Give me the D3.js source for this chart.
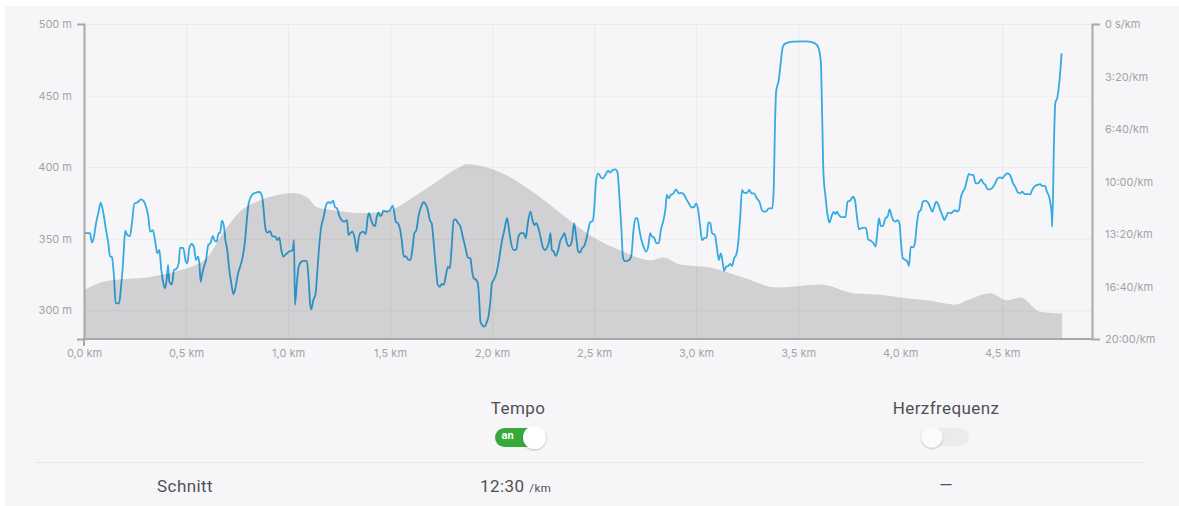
<!DOCTYPE html>
<html>
<head>
<meta charset="utf-8">
<script src="https://cdn.jsdelivr.net/npm/d3@7"></script>
<style>
    body { margin: 0; background: #fff; }
    svg { display: block; }
    .tick text { font-family: Inter, "Open Sans", sans-serif; font-size: 11px; fill: #a3a3a6; }
    .axis path, .axis line { stroke: #a8a8aa; stroke-width: 2px; }
    .grid line { stroke: #ebebee; stroke-width: 1px; }
    .grid path { display: none; }
    .label { font-family: Roboto, sans-serif; fill: #505053; letter-spacing: 0.4px; }
</style>
</head>
<body>
<svg id="chart" width="1179" height="506"></svg>
<script>
// elevation profile (km, m)
const elevKm = [0, 0.093, 0.225, 0.309, 0.387, 0.471, 0.603, 0.681, 0.765, 0.848, 0.961, 1.025, 1.093, 1.142, 1.221, 1.368, 1.5, 1.613, 1.73, 1.828, 1.877, 1.99, 2.088, 2.186, 2.299, 2.397, 2.495, 2.627, 2.775, 2.838, 2.922, 3.069, 3.23, 3.397, 3.608, 3.77, 3.887, 4.0, 4.132, 4.27, 4.328, 4.441, 4.525, 4.588, 4.686, 4.76, 4.794];
const elevM = [314, 320, 322, 323, 325, 328, 337, 354, 369, 376, 381, 382, 379, 372, 370, 368, 370, 379, 390, 399, 402, 399, 393, 384, 372, 361, 351, 342, 335, 337, 332, 330, 323, 316, 318, 312, 311, 309, 307, 304, 307, 312, 307, 309, 299, 298, 298];

// pace track [km, seconds per km]
const paceTrack = [[0,797],[0.010,797],[0.029,797],[0.039,833],[0.049,810],[0.059,759],[0.070,721],[0.082,681],[0.095,721],[0.108,785],[0.119,835],[0.127,884],[0.137,889],[0.147,963],[0.155,1064],[0.172,1064],[0.180,1013],[0.190,925],[0.196,848],[0.202,787],[0.212,804],[0.225,808],[0.235,759],[0.247,683],[0.258,681],[0.266,677],[0.278,668],[0.291,673],[0.304,696],[0.315,734],[0.324,791],[0.337,785],[0.348,823],[0.359,874],[0.369,861],[0.379,937],[0.389,988],[0.397,1007],[0.405,975],[0.412,918],[0.418,982],[0.431,992],[0.441,937],[0.454,932],[0.464,912],[0.471,852],[0.487,854],[0.497,899],[0.506,912],[0.516,854],[0.528,838],[0.539,851],[0.549,899],[0.559,886],[0.565,909],[0.572,982],[0.578,956],[0.588,925],[0.598,899],[0.609,842],[0.621,833],[0.631,808],[0.641,826],[0.650,829],[0.660,797],[0.667,797],[0.676,749],[0.686,772],[0.693,823],[0.702,861],[0.712,937],[0.722,988],[0.732,1029],[0.742,1007],[0.755,950],[0.765,925],[0.778,886],[0.788,835],[0.798,747],[0.807,683],[0.824,651],[0.840,643],[0.859,640],[0.873,658],[0.879,696],[0.889,778],[0.899,795],[0.912,789],[0.922,808],[0.938,810],[0.948,823],[0.957,814],[0.967,861],[0.977,886],[0.994,874],[1.006,867],[1.023,861],[1.029,823],[1.034,1070],[1.043,988],[1.052,925],[1.065,906],[1.078,902],[1.092,902],[1.100,963],[1.108,1064],[1.114,1087],[1.124,1051],[1.134,1032],[1.144,937],[1.153,842],[1.163,772],[1.173,740],[1.190,683],[1.200,679],
    [1.207,683],[1.221,673],[1.230,698],[1.240,702],[1.250,728],[1.263,747],[1.276,753],[1.289,747],[1.296,804],[1.305,797],[1.315,791],[1.325,810],[1.338,867],[1.345,823],[1.354,797],[1.369,791],[1.381,800],[1.391,734],[1.397,721],[1.407,747],[1.418,766],[1.426,770],[1.435,734],[1.443,719],[1.451,731],[1.459,728],[1.467,711],[1.484,715],[1.500,709],[1.513,692],[1.521,721],[1.528,753],[1.538,759],[1.548,778],[1.557,823],[1.567,886],[1.577,884],[1.587,896],[1.600,899],[1.609,861],[1.619,797],[1.629,785],[1.639,734],[1.652,696],[1.665,679],[1.675,687],[1.685,709],[1.695,747],[1.704,759],[1.714,835],[1.724,925],[1.734,994],[1.744,1001],[1.753,990],[1.763,994],[1.773,960],[1.783,925],[1.793,931],[1.802,848],[1.812,747],[1.822,744],[1.832,757],[1.845,772],[1.858,816],[1.868,848],[1.881,889],[1.894,893],[1.901,937],[1.910,969],[1.920,973],[1.930,988],[1.936,1039],[1.943,1134],[1.952,1147],[1.962,1153],[1.972,1140],[1.982,1115],[1.992,1051],[1.999,988],[2.008,975],[2.021,950],[2.031,912],[2.041,861],[2.050,820],[2.060,785],[2.074,740],[2.083,785],[2.093,835],[2.106,861],[2.119,858],[2.129,810],[2.142,797],[2.155,797],[2.165,816],[2.175,759],[2.188,715],[2.198,747],[2.207,766],[2.217,759],[2.227,778],[2.237,810],[2.250,854],[2.260,861],[2.270,851],[2.279,829],[2.286,797],[2.293,861],[2.302,867],[2.312,884],[2.322,867],[2.335,823],[2.345,810],[2.354,797],[2.364,826],[2.374,846],[2.384,842],
    [2.392,823],[2.402,759],[2.412,810],[2.422,867],[2.431,871],[2.441,854],[2.451,846],[2.461,823],[2.471,785],[2.480,757],[2.494,749],[2.500,709],[2.510,594],[2.520,569],[2.533,584],[2.543,588],[2.555,575],[2.569,559],[2.578,566],[2.592,556],[2.604,554],[2.614,563],[2.624,658],[2.634,785],[2.641,886],[2.650,903],[2.663,902],[2.676,896],[2.683,880],[2.693,785],[2.703,740],[2.712,740],[2.722,785],[2.732,823],[2.742,848],[2.755,867],[2.765,848],[2.775,797],[2.784,810],[2.794,813],[2.804,835],[2.817,835],[2.827,785],[2.840,747],[2.850,702],[2.856,651],[2.866,664],[2.876,651],[2.889,645],[2.902,630],[2.915,645],[2.928,643],[2.941,651],[2.954,670],[2.964,683],[2.977,698],[2.990,698],[3.000,683],[3.010,709],[3.020,772],[3.029,823],[3.039,816],[3.052,813],[3.059,757],[3.069,757],[3.078,797],[3.092,804],[3.101,848],[3.111,899],[3.121,874],[3.131,914],[3.137,940],[3.147,925],[3.157,922],[3.167,914],[3.176,922],[3.186,893],[3.196,880],[3.206,835],[3.216,734],[3.225,632],[3.235,643],[3.249,643],[3.261,632],[3.271,645],[3.284,645],[3.297,664],[3.310,677],[3.324,711],[3.337,715],[3.346,712],[3.356,702],[3.373,702],[3.380,632],[3.387,366],[3.392,258],[3.405,213],[3.415,144],[3.425,86],[3.438,74],[3.477,67],[3.543,66],[3.583,74],[3.600,93],[3.611,144],[3.618,366],[3.624,569],[3.634,658],[3.644,728],[3.653,757],[3.663,734],[3.673,716],[3.683,724],[3.690,715],[3.700,728],[3.712,736],[3.732,736],[3.742,677],[3.755,673],[3.768,658],[3.778,670],[3.788,734],[3.798,782],[3.810,778],[3.824,776],[3.833,778],[3.843,820],[3.856,826],[3.869,835],[3.879,848],[3.886,810],[3.896,740],[3.905,770],[3.915,770],[3.928,740],[3.938,734],[3.948,706],[3.957,728],[3.967,749],[3.977,753],[3.987,747],[3.997,762],[4.003,823],[4.013,893],[4.026,899],[4.036,906],[4.043,922],[4.052,848],[4.062,851],[4.072,835],[4.082,759],[4.092,715],[4.101,709],[4.111,677],[4.124,673],[4.137,681],[4.147,698],[4.157,715],[4.167,696],[4.176,677],[4.186,686],[4.196,709],[4.206,728],[4.216,747],[4.225,734],[4.235,719],[4.248,721],[4.258,715],[4.268,709],[4.278,715],[4.288,709],[4.298,658],[4.307,639],[4.317,626],[4.327,594],[4.337,571],[4.346,575],[4.359,575],[4.369,607],[4.379,607],[4.389,601],[4.398,592],[4.408,607],[4.418,613],[4.428,630],[4.441,630],[4.454,622],[4.467,605],[4.477,588],[4.490,584],[4.500,588],[4.510,579],[4.523,569],[4.533,571],[4.543,584],[4.552,605],[4.565,622],[4.578,643],[4.588,645],[4.598,639],[4.611,648],[4.624,648],[4.637,649],[4.647,632],[4.657,620],[4.673,613],[4.686,610],[4.696,617],[4.709,617],[4.719,639],[4.732,664],[4.742,721],[4.745,773],[4.754,442],[4.760,302],[4.771,277],[4.781,213],[4.791,112]];

const xTicks = [0, 0.5, 1, 1.5, 2, 2.5, 3, 3.5, 4, 4.5];
const altTicks = [300, 350, 400, 450, 500];
const paceTicks = [0, 200, 400, 600, 800, 1000, 1200];

const margin = { top: 24, right: 87, bottom: 167, left: 84 };
const W = 1179, H = 506;
const width = W - margin.left - margin.right;
const height = H - margin.top - margin.bottom;

const svg = d3.select("#chart");

// panel background
svg.append("rect").attr("x", 5).attr("y", 6).attr("width", W - 5).attr("height", H - 6).attr("fill", "#f6f6f8");

const g = svg.append("g").attr("transform", `translate(${margin.left},${margin.top})`);

const x = d3.scaleLinear().domain([0, 4.94]).range([0, width]);
const yAlt = d3.scaleLinear().domain([280, 500]).range([height, 0]);
const yPace = d3.scaleLinear().domain([0, 1200]).range([0, height]);

const fmtKm = (d) => d3.format(".1f")(d).replace(".", ",") + " km";
const fmtPace = (d) => (d === 0 ? "0 s/km" : `${Math.floor(d / 60)}:${String(d % 60).padStart(2, "0")}/km`);

// grids
g.append("g").attr("class", "grid x").attr("transform", `translate(0,${height})`)
    .call(d3.axisBottom(x).tickValues(xTicks).tickFormat("").tickSize(-height));
g.append("g").attr("class", "grid y")
    .call(d3.axisLeft(yAlt).tickValues(altTicks).tickFormat("").tickSize(-width));

// pace line
const line = d3.line()
    .x((d) => x(d[0]))
    .y((d) => yPace(d[1]))
    .curve(d3.curveMonotoneX);
g.append("path").datum(paceTrack)
    .attr("fill", "none").attr("stroke", "#36aae2").attr("stroke-width", 1.8)
    .attr("stroke-linejoin", "round").attr("d", line);

// elevation area, drawn on top with transparency
const area = d3.area()
    .x((d, i) => x(elevKm[i]))
    .y0(height)
    .y1((d) => yAlt(d))
    .curve(d3.curveMonotoneX);
g.append("path").datum(elevM).attr("fill", "rgba(0,0,0,0.148)").attr("d", area);

// axes
g.append("g").attr("class", "axis x").attr("transform", `translate(0,${height})`)
    .call(d3.axisBottom(x).tickValues(xTicks).tickFormat(fmtKm).tickSizeInner(0).tickSizeOuter(7).tickPadding(10));
g.append("g").attr("class", "axis y")
    .call(d3.axisLeft(yAlt).tickValues(altTicks).tickFormat((d) => d + " m").tickSizeInner(0).tickSizeOuter(7).tickPadding(12));
g.append("g").attr("class", "axis pace").attr("transform", `translate(${width},0)`)
    .call(d3.axisRight(yPace).tickValues(paceTicks).tickFormat(fmtPace).tickSizeInner(0).tickSizeOuter(8).tickPadding(13));

// x axis: only the 0 tick mark goes down
svg.selectAll(".axis.x .domain").attr("d", `M0,7V0H${width}`);

// controls below the chart
const ctl = svg.append("g");
ctl.append("text").attr("class", "label").attr("x", 518).attr("y", 414).attr("text-anchor", "middle")
    .attr("font-size", 17).text("Tempo");
ctl.append("text").attr("class", "label").attr("x", 946).attr("y", 414).attr("text-anchor", "middle")
    .attr("font-size", 17).text("Herzfrequenz");

const defs = svg.append("defs");
defs.append("filter").attr("id", "sh").attr("x", "-50%").attr("y", "-50%").attr("width", "200%").attr("height", "200%")
    .append("feDropShadow").attr("dx", 0).attr("dy", 1).attr("stdDeviation", 1.2).attr("flood-color", "#000").attr("flood-opacity", 0.25);

ctl.append("rect").attr("x", 495).attr("y", 428).attr("width", 51).attr("height", 19).attr("rx", 9.5).attr("fill", "#37a93a");
ctl.append("text").attr("x", 501.5).attr("y", 438.5).attr("font-family", "Roboto, sans-serif").attr("font-weight", "bold")
    .attr("font-size", 11).attr("fill", "#fff").text("an");
ctl.append("circle").attr("cx", 534.5).attr("cy", 437.5).attr("r", 11.5).attr("fill", "#fff").attr("filter", "url(#sh)");

ctl.append("rect").attr("x", 922).attr("y", 428).attr("width", 47).attr("height", 18).attr("rx", 9).attr("fill", "#ebebed");
ctl.append("circle").attr("cx", 932).attr("cy", 437).attr("r", 10.5).attr("fill", "#fbfbfc").attr("filter", "url(#sh)");

ctl.append("line").attr("x1", 35).attr("x2", 1145).attr("y1", 462.5).attr("y2", 462.5).attr("stroke", "#e8e8ea");

ctl.append("text").attr("class", "label").attr("x", 185).attr("y", 492).attr("text-anchor", "middle")
    .attr("font-size", 17).attr("fill", "#333").text("Schnitt");
const avg = ctl.append("text").attr("class", "label").attr("x", 480).attr("y", 492).attr("font-size", 17);
avg.append("tspan").text("12:30");
avg.append("tspan").attr("font-size", 11.5).attr("dx", 5).text("/km");
ctl.append("text").attr("class", "label").attr("x", 946).attr("y", 491).attr("text-anchor", "middle")
    .attr("font-size", 17).text("—");
</script>
</body>
</html>
